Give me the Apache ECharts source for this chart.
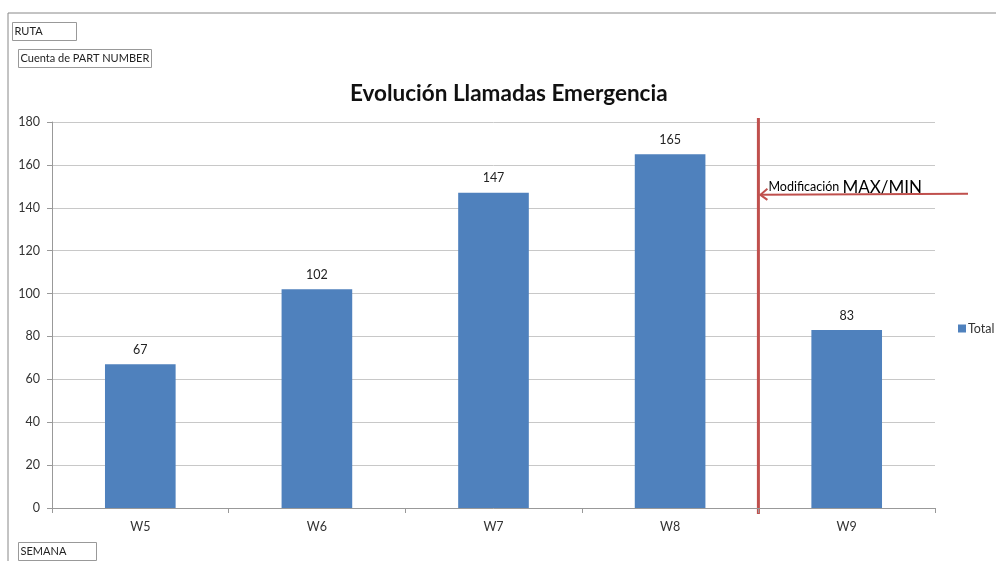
<!DOCTYPE html>
<html>
<head>
<meta charset="utf-8">
<script src="https://cdn.jsdelivr.net/npm/echarts@6/dist/echarts.min.js"></script>
<style>
  html, body { margin: 0; padding: 0; background: #fff; }
  #chart { width: 996px; height: 561px; }
</style>
</head>
<body>
<div id="chart"></div>
<script>
var semanas = ['W5', 'W6', 'W7', 'W8', 'W9'];
var totales = [67, 102, 147, 165, 83];
var yTicks = [0, 20, 40, 60, 80, 100, 120, 140, 160, 180];

var fuente = 'Lato, "Noto Sans", sans-serif';
var chart = echarts.init(document.getElementById('chart'));

function caja(x, y, w, h, texto) {
  return {
    type: 'group', left: x, top: y,
    children: [
      { type: 'rect', shape: { x: 0, y: 0, width: w, height: h },
        style: { fill: '#fff', stroke: '#999', lineWidth: 1 } },
      { type: 'text', x: 2, y: h / 2,
        style: { text: texto, fill: '#222', font: '11px ' + fuente, textVerticalAlign: 'middle' } }
    ]
  };
}

var option = {
  animation: false,
  title: {
    text: 'Evolución Llamadas Emergencia',
    left: 345, top: 77,
    textStyle: { fontFamily: fuente, fontSize: 22.5, fontWeight: 'bold', color: '#111' }
  },
  legend: {
    data: ['Total'], orient: 'vertical', left: 953, top: 317,
    itemWidth: 8, itemHeight: 8, itemGap: 4,
    textStyle: { fontFamily: fuente, fontSize: 12.5, color: '#333', padding: [0, 0, 0, -3] },
    icon: 'rect'
  },
  grid: { left: 52, right: 61, top: 122, bottom: 53 },
  xAxis: {
    type: 'category', data: semanas,
    axisLine: { lineStyle: { color: '#999' } },
    axisTick: { show: true, length: 5, lineStyle: { color: '#999' } },
    axisLabel: { fontFamily: fuente, fontSize: 12.5, color: '#333', margin: 12 }
  },
  yAxis: {
    type: 'value', min: 0, max: 180, interval: 20,
    axisLine: { show: true, lineStyle: { color: '#999' } },
    axisTick: { show: true, length: 5, lineStyle: { color: '#999' } },
    axisLabel: { fontFamily: fuente, fontSize: 12.5, color: '#333', margin: 12 },
    splitLine: { lineStyle: { color: '#c8c8c8' } }
  },
  series: [{
    name: 'Total', type: 'bar', data: totales, barWidth: '40%',
    itemStyle: { color: '#4F81BD' },
    label: { show: true, position: 'top', distance: 8, fontFamily: fuente, fontSize: 12.5, color: '#222' }
  }]
};
chart.setOption(option);

// anotación: línea roja entre W8 y W9 y flecha
var p8 = chart.convertToPixel({ xAxisIndex: 0 }, 'W8');
var p9 = chart.convertToPixel({ xAxisIndex: 0 }, 'W9');
var xm = (p8 + p9) / 2;
var yFlecha = chart.convertToPixel({ yAxisIndex: 0 }, 146.5);

chart.setOption({
  graphic: [
    { type: 'line', shape: { x1: 8, y1: 13, x2: 996, y2: 13 }, style: { stroke: '#888', lineWidth: 1 } },
    { type: 'line', shape: { x1: 8, y1: 13, x2: 8, y2: 561 }, style: { stroke: '#888', lineWidth: 1 } },
    caja(12, 22, 64, 18, 'RUTA'),
    caja(18, 49, 133, 18, 'Cuenta de PART NUMBER'),
    caja(18, 542, 78, 18, 'SEMANA'),
    { type: 'line', shape: { x1: xm, y1: 118, x2: xm, y2: 514 },
      style: { stroke: '#C0504D', lineWidth: 3 } },
    { type: 'polyline', shape: { points: [[968, yFlecha], [xm + 2, yFlecha + 1]] },
      style: { stroke: '#C0504D', lineWidth: 2, fill: null } },
    { type: 'polyline', shape: { points: [[xm + 9, yFlecha - 5], [xm + 2, yFlecha + 1], [xm + 9, yFlecha + 6]] },
      style: { stroke: '#C0504D', lineWidth: 2, fill: null } },
    { type: 'text', x: xm + 10, y: yFlecha + 2,
      style: { text: '{a|Modificación }{b|MAX/MIN}', textVerticalAlign: 'bottom',
        rich: {
          a: { fontFamily: fuente, fontSize: 12.5, color: '#333' },
          b: { fontFamily: fuente, fontSize: 17, color: '#333' }
        } } }
  ]
});
</script>
</body>
</html>
